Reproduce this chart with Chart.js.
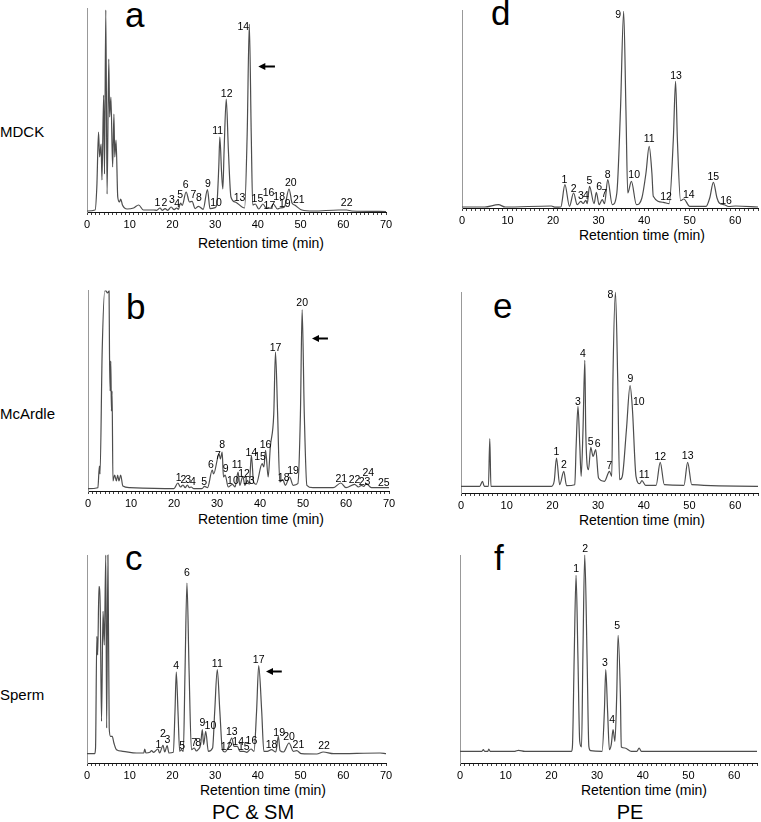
<!DOCTYPE html>
<html>
<head>
<meta charset="utf-8">
<script src="https://cdn.jsdelivr.net/npm/chart.js@4.4.1/dist/chart.umd.min.js"></script>
<style>
  body { margin: 0; background: #fff; }
  #page {
    position: relative;
    width: 761px;
    height: 822px;
    overflow: hidden;
    font-family: "Liberation Sans", Arial, sans-serif;
    color: #000;
  }
  #page canvas { position: absolute; }
  .t { position: absolute; line-height: 1; white-space: nowrap; }
  .row { left: 0; font-size: 15px; transform: translateY(-50%); }
  .axis-title { font-size: 14px; transform: translate(-50%, -50%); }
  .group { font-size: 20px; transform: translate(-50%, -50%); }
  .letter { font-size: 35px; }
</style>
</head>
<body>
<div id="page">
  <div class="t row" style="top:131px">MDCK</div>
  <div class="t row" style="top:413px">McArdle</div>
  <div class="t row" style="top:694px">Sperm</div>

  <div class="t letter" style="left:125px; top:-3px">a</div>
  <div class="t letter" style="left:126px; top:289px">b</div>
  <div class="t letter" style="left:125px; top:540px">c</div>
  <div class="t letter" style="left:491px; top:-5px">d</div>
  <div class="t letter" style="left:493px; top:288px">e</div>
  <div class="t letter" style="left:494px; top:540px">f</div>

  <div class="t axis-title" style="left:261px; top:243px">Retention time (min)</div>
  <div class="t axis-title" style="left:261px; top:519px">Retention time (min)</div>
  <div class="t axis-title" style="left:263px; top:790px">Retention time (min)</div>
  <div class="t axis-title" style="left:642px; top:235px">Retention time (min)</div>
  <div class="t axis-title" style="left:642px; top:520px">Retention time (min)</div>
  <div class="t axis-title" style="left:644px; top:790px">Retention time (min)</div>

  <div class="t group" style="left:253px; top:812px">PC &amp; SM</div>
  <div class="t group" style="left:630px; top:812px">PE</div>
</div>

<script>
// ---- a: PC & SM, MDCK ----
const aTime = [0, 1.9, 2.3, 2.7, 2.95, 3.3, 3.5, 3.9, 4.1, 4.4,
  4.7, 5.1, 5.3, 5.6, 6.0, 6.3, 6.5, 6.8, 7.2, 7.6,
  7.9, 8.3, 9.4, 10.9, 12.1, 13.2, 15.6, 16.3, 17.1, 17.6,
  18.3, 18.9, 19.7, 20.4, 21.0, 21.4, 21.9, 22.3, 23.2, 24.0,
  24.6, 25.3, 26.1, 27.2, 28.2, 28.8, 30.0, 30.4, 30.85, 31.1,
  31.5, 31.8, 32.1, 32.6, 33.1, 33.7, 34.7, 36.9, 37.5, 38.0,
  38.45, 38.8, 39.4, 40.2, 41.2, 42.0, 42.5, 42.9, 43.6, 44.6,
  45.2, 46.2, 47.3, 48.0, 48.6, 50.3, 53, 58.9, 60.8, 62, 70];
const aSignal = [1, 2, 25, 80, 55, 68, 32, 117, 38, 202,
  18, 153, 95, 115, 45, 98, 55, 72, 15, 10,
  13, 7, 3, 4, 7, 2, 2, 1.7, 4, 1.7,
  3.4, 1.7, 5, 2.4, 4, 2.6, 9, 6.7, 20, 10,
  10.7, 3.4, 5.7, 2.7, 22.4, 3.4, 4.4, 8, 45, 75,
  40, 23, 62, 113, 62, 15, 10, 4, 78, 188,
  78, 7, 8, 3, 8, 3.5, 4.3, 3.5, 8, 3,
  4, 5, 23, 9, 7, 2, 1, 2, 2, 1, 0.5];
const aPeakNo = ["1", "2", "3", "4", "5", "6", "7", "8", "9", "10", "11",
  "12", "13", "14", "15", "16", "17", "18", "19", "20", "21", "22"];
const aPeakTime = [16.5, 18.1, 19.9, 21.1, 21.8, 23.1, 24.9, 26.2, 28.3, 30.2, 30.6,
  32.7, 35.7, 36.6, 39.9, 42.5, 42.7, 45.0, 46.3, 47.7, 49.6, 60.8];
const aPeakSignal = [9.3, 9.3, 11.7, 8.3, 16.7, 26.7, 16.7, 14, 28.3, 9.3, 80.7,
  118.3, 14, 185, 12.7, 19, 6, 15, 7.7, 29, 11.7, 9];
const aArrow = [40.1, 44.0, 146];

// ---- b: PC & SM, McArdle ----
const bTime = [0, 2.3, 2.65, 2.8, 3.3, 3.9, 4.2, 4.5, 4.9, 5.0,
  5.15, 5.3, 5.45, 5.6, 5.8, 6.2, 6.6, 6.9, 7.2, 7.6,
  8.1, 9.7, 20.0, 20.9, 21.5, 22.1, 22.6, 23.1, 23.6, 24.0,
  24.6, 26.5, 27.1, 27.8, 28.9, 29.2, 30.5, 30.8, 31.2, 31.5,
  31.9, 32.6, 33.6, 34.2, 34.9, 35.3, 36.0, 36.5, 37.1, 37.5,
  38.0, 38.5, 39.1, 40.5, 40.9, 41.3, 41.9, 42.4, 43.2, 43.6,
  44.1, 44.6, 45.3, 45.9, 46.9, 47.7, 48.8, 49.4, 49.8, 50.3,
  50.9, 52.3, 57, 58.8, 60, 62, 62.9, 63.6, 64.1, 64.7, 65.9, 70];
const bSignal = [2.3, 3.3, 25, 17, 140, 200, 200, 198, 200, 137,
  100, 130, 80, 100, 10, 16, 10, 16, 10, 16,
  5, 3.3, 2.3, 8, 4, 6, 3.3, 6, 3.3, 4,
  2.3, 2.3, 4.7, 3.3, 21, 17, 37, 32, 39, 14,
  16, 4, 6.7, 4, 19, 5.7, 14.7, 5.7, 10.7, 6.7,
  35.7, 9, 6.7, 27.3, 24, 40.7, 14, 44, 77, 139,
  77, 9, 11.3, 5.7, 14, 5.7, 7.3, 77, 181.3, 77,
  5.7, 3.3, 3.3, 8, 3.3, 6.7, 4, 5.7, 4.5, 7.3, 3.3, 3.3];
const bPeakNo = ["1", "2", "3", "4", "5", "6", "7", "8", "9", "10", "11", "12", "13",
  "14", "15", "16", "17", "18", "19", "20", "21", "22", "23", "24", "25"];
const bPeakTime = [21.1, 22.2, 23.3, 24.4, 27.0, 28.6, 30.2, 31.2, 32.0, 33.7, 34.7, 36.3, 37.4,
  38.0, 40.0, 41.3, 43.6, 45.5, 47.7, 49.8, 58.9, 62.0, 64.3, 65.2, 68.8];
const bPeakSignal = [13.3, 10.7, 10.7, 9, 9, 26.3, 34.7, 46.3, 22.3, 9.7, 26.3, 17.3, 10,
  38.3, 34, 46.3, 143.3, 13, 19.7, 188.3, 12.3, 10.7, 8.7, 18, 8.3];
const bArrow = [52.1, 55.8, 153];

// ---- c: PC & SM, Sperm ----
const cTime = [0, 1.8, 2.0, 2.3, 2.5, 2.8, 3.1, 3.4, 3.75, 4.05,
  4.4, 4.6, 4.9, 5.2, 5.5, 5.9, 6.3, 6.9, 8.4, 11.6,
  13.3, 13.5, 13.8, 14.7, 15.1, 15.6, 16.6, 17.0, 17.8, 18.2,
  18.75, 19.2, 20.2, 20.6, 20.9, 21.3, 21.7, 22.1, 22.55, 22.95,
  23.4, 23.9, 24.45, 25.1, 25.6, 26.0, 26.6, 27.0, 27.3, 27.8,
  28.4, 29.4, 29.9, 30.5, 31.1, 31.7, 32.3, 33.0, 33.9, 34.4,
  35.2, 35.8, 36.7, 37.4, 38.4, 39.1, 39.7, 40.2, 40.9, 41.4,
  42.2, 43.2, 44.2, 44.8, 45.2, 46.0, 47.3, 48.3, 49.1, 50.2,
  53.8, 55.3, 57.7, 68.6, 70];
const cSignal = [9.3, 9.3, 15, 126.7, 108, 176.7, 155, 41.7, 151.7, 118,
  208, 35, 208, 35, 26.7, 26.7, 20, 13.3, 11.7, 10,
  10, 14, 10, 10.7, 12.3, 10.7, 14, 10, 17.7, 11,
  17.3, 10, 10.7, 51.7, 91, 51.7, 11.7, 13.3, 11.5, 92,
  180, 92, 13.3, 15, 12, 13.3, 18.3, 33.3, 18.3, 31.7,
  11.7, 15, 51.7, 93.3, 51.7, 13.3, 11, 15, 25, 16.7,
  16.7, 11.7, 11.7, 10.7, 14, 11.7, 51.7, 97.3, 51.7, 11.7,
  11.7, 13.3, 11, 26.7, 12.3, 11, 20, 11.7, 12.3, 9.3,
  9, 11, 9.3, 10, 9.3];
const cPeakNo = ["1", "2", "3", "4", "5", "6", "7", "8", "9", "10", "11",
  "12", "13", "14", "15", "16", "17", "18", "19", "20", "21", "22"];
const cPeakTime = [16.7, 17.8, 18.8, 20.9, 22.3, 23.4, 25.1, 26.0, 27.0, 28.9, 30.5,
  32.7, 33.9, 35.4, 36.7, 38.5, 40.2, 43.2, 45.0, 47.3, 49.5, 55.5];
const cPeakSignal = [18.3, 29, 23.3, 97.3, 16.7, 190, 20, 20, 40, 36.7, 99,
  15.7, 30.7, 20.7, 16, 22.3, 103.3, 17.7, 30, 25.7, 17.7, 16.7];
const cArrow = [41.9, 45.6, 92];

// ---- d: PE, MDCK ----
const dTime = [0, 5, 8, 9.5, 19.6, 20.5, 21.7, 22.6, 23.6, 24.5,
  25.3, 26.1, 26.6, 27.2, 27.5, 28.0, 29.0, 29.5, 30.1, 30.8,
  31.3, 32.0, 33.0, 34.0, 34.8, 35.5, 36.0, 36.4, 37.2, 38.3,
  39.5, 40.4, 41.1, 41.7, 42.0, 44.2, 45.5, 46.4, 46.9, 47.3,
  48.0, 48.7, 50.0, 53.6, 54.4, 55.2, 56.0, 56.5, 57.6, 58.5, 60.1, 65];
const dSignal = [1, 1, 3.3, 1, 2, 0.8, 1, 23.3, 1.7, 15,
  3.3, 6.7, 4.5, 7.7, 4.3, 21.7, 4.3, 15.7, 3.3, 8.3,
  4.3, 28.3, 3.3, 15, 98, 196.7, 98, 15, 26.7, 3.3,
  10, 35, 61.7, 35, 11.7, 5.7, 4.3, 68, 126.7, 68,
  7.3, 9, 1.7, 1.7, 10, 25.7, 10, 5, 3.3, 1.5, 2, 1];
const dPeakNo = ["1", "2", "3", "4", "5", "6", "7", "8",
  "9", "10", "11", "12", "13", "14", "15", "16"];
const dPeakTime = [22.5, 24.5, 26.1, 27.2, 28.0, 30.1, 31.2, 32.0,
  34.3, 37.8, 41.1, 44.8, 47.0, 49.8, 55.2, 58.0];
const dPeakSignal = [28.3, 19.3, 11.7, 11.7, 27.3, 20.7, 14, 33.3,
  192.7, 32.7, 69, 11, 131.7, 12.7, 30.7, 7.3];

// ---- e: PE, McArdle ----
const eTime = [0, 4.1, 4.7, 5.1, 6.0, 6.3, 6.55, 19.8, 20.4, 20.9,
  21.6, 22.5, 23.1, 24.9, 25.2, 25.6, 26.0, 26.3, 26.7, 27.1,
  27.3, 27.9, 28.4, 28.9, 29.5, 30.1, 31.4, 32.5, 33.0, 33.25,
  33.8, 34.3, 34.7, 35.3, 36.2, 37.0, 37.5, 38.3, 39.1, 39.6,
  40.4, 42.7, 43.6, 44.5, 48.8, 49.6, 50.5, 65];
const eSignal = [6.7, 6.7, 11.7, 6.7, 6.7, 54.3, 6.7, 6.7, 12, 35,
  8.3, 21.7, 7.3, 8.3, 47, 86.7, 47, 16.7, 63, 132.7,
  63, 23.3, 45.7, 36.7, 43.3, 15, 11.7, 21.7, 16.7, 113,
  200.7, 113, 13.3, 16.7, 63, 107.3, 85, 16.7, 9.3, 12.3,
  7.7, 7.7, 30.7, 8.3, 7.7, 30.7, 8.3, 6.7];
const ePeakNo = ["1", "2", "3", "4", "5", "6", "7", "8", "9", "10", "11", "12", "13"];
const ePeakTime = [20.9, 22.5, 25.6, 26.7, 28.4, 29.9, 32.5, 32.7, 37.1, 38.9, 40.1, 43.6, 49.6];
const ePeakSignal = [40.7, 27.7, 91, 138.7, 51.3, 48.7, 26.7, 197.7, 114, 90.7, 18.3, 35.7, 37];

// ---- f: PE, Sperm ----
const fTime = [0, 4.8, 5.1, 5.4, 6.1, 6.3, 6.6, 12.0, 12.8, 14.2,
  24.4, 24.6, 25.0, 25.4, 25.8, 26.2, 26.6, 26.9, 27.3, 27.8,
  28.2, 28.6, 31.1, 31.6, 31.9, 32.3, 32.7, 33.1, 33.5, 33.9,
  34.3, 34.6, 35.1, 35.3, 36.1, 37.5, 38.7, 39.2, 39.7, 65];
const fSignal = [11.7, 11.7, 13.3, 11.7, 11.7, 14, 11.7, 11.7, 12.7, 11.7,
  11.7, 16, 108, 187.7, 108, 21.7, 16, 108, 208, 108,
  16.7, 12.3, 11.7, 52, 93.3, 52, 13.3, 18.3, 33.3, 21.7,
  68, 127.7, 68, 16, 15, 11.7, 11.7, 15, 11.7, 11.7];
const fPeakNo = ["1", "2", "3", "4", "5"];
const fPeakTime = [25.4, 27.4, 31.7, 33.3, 34.4];
const fPeakSignal = [194, 214, 100, 43, 137];

const FONT = "'Liberation Sans', Arial, sans-serif";

// plot box of every panel, in page pixels
const panels = [
  { time: aTime, signal: aSignal, no: aPeakNo, pt: aPeakTime, ps: aPeakSignal, arrow: aArrow,
    left: 87, right: 386, top: 8, axis: 212, xMax: 70, yMax: 204, padTop: 8 },
  { time: bTime, signal: bSignal, no: bPeakNo, pt: bPeakTime, ps: bPeakSignal, arrow: bArrow,
    left: 88, right: 389, top: 290, axis: 491, xMax: 70, yMax: 201, padTop: 12 },
  { time: cTime, signal: cSignal, no: cPeakNo, pt: cPeakTime, ps: cPeakSignal, arrow: cArrow,
    left: 87, right: 386, top: 555, axis: 763, xMax: 70, yMax: 208, padTop: 15 },
  { time: dTime, signal: dSignal, no: dPeakNo, pt: dPeakTime, ps: dPeakSignal, arrow: null,
    left: 462, right: 761, top: 10, axis: 208, xMax: 65, yMax: 198, padTop: 10 },
  { time: eTime, signal: eSignal, no: ePeakNo, pt: ePeakTime, ps: ePeakSignal, arrow: null,
    left: 461, right: 759, top: 292, axis: 493, xMax: 65, yMax: 201, padTop: 12 },
  { time: fTime, signal: fSignal, no: fPeakNo, pt: fPeakTime, ps: fPeakSignal, arrow: null,
    left: 460, right: 757, top: 555, axis: 763, xMax: 65, yMax: 208, padTop: 15 },
];

function labelPlugin(p) {
  return {
    id: "peakLabels",
    afterDatasetsDraw(chart) {
      const { ctx, scales: { x, y } } = chart;
      ctx.save();
      ctx.font = "10.5px " + FONT;
      ctx.fillStyle = "#000";
      ctx.textAlign = "center";
      ctx.textBaseline = "middle";
      p.no.forEach((n, i) => {
        ctx.fillText(n, x.getPixelForValue(p.pt[i]), y.getPixelForValue(p.ps[i]));
      });
      if (p.arrow) {
        const x1 = x.getPixelForValue(p.arrow[0]);
        const x2 = x.getPixelForValue(p.arrow[1]);
        const yy = Math.round(y.getPixelForValue(p.arrow[2])) + 0.5;
        ctx.strokeStyle = "#000";
        ctx.lineWidth = 2;
        ctx.beginPath();
        ctx.moveTo(x1 + 5, yy);
        ctx.lineTo(x2, yy);
        ctx.stroke();
        ctx.beginPath();
        ctx.moveTo(x1, yy);
        ctx.lineTo(x1 + 7, yy - 3.5);
        ctx.lineTo(x1 + 7, yy + 3.5);
        ctx.closePath();
        ctx.fill();
      }
      ctx.restore();
    },
  };
}

const AXIS_H = 24;
const page = document.getElementById("page");

panels.forEach((p) => {
  const padL = 14;
  const padR = Math.min(14, 761 - p.right);
  const canvas = document.createElement("canvas");
  const w = p.right - p.left + padL + padR;
  const h = p.padTop + (p.axis - p.top) + AXIS_H;
  canvas.width = w;
  canvas.height = h;
  canvas.style.left = p.left - padL + "px";
  canvas.style.top = p.top - p.padTop + "px";
  canvas.style.width = w + "px";
  canvas.style.height = h + "px";
  page.appendChild(canvas);

  new Chart(canvas, {
    type: "line",
    data: {
      datasets: [
        {
          data: p.time.map((t, i) => ({ x: t, y: p.signal[i] })),
          borderColor: "#4d4d4d",
          borderWidth: 1.2,
          pointRadius: 0,
          cubicInterpolationMode: "monotone",
          fill: false,
          clip: false,
        },
      ],
    },
    options: {
      responsive: false,
      animation: false,
      events: [],
      layout: { padding: { left: padL, right: padR, top: p.padTop, bottom: 0 } },
      plugins: { legend: { display: false }, tooltip: { enabled: false } },
      scales: {
        x: {
          type: "linear",
          min: 0,
          max: p.xMax,
          afterFit: (ax) => { ax.height = AXIS_H; },
          ticks: {
            stepSize: 1,
            autoSkip: false,
            maxRotation: 0,
            padding: 3,
            color: "#000",
            font: { size: 11, family: FONT },
            callback: (v) => (v % 10 === 0 ? v : ""),
          },
          grid: { display: true, drawOnChartArea: false, drawTicks: true, tickLength: 3, tickColor: "#444" },
          border: { display: true, color: "#111", width: 1 },
        },
        y: {
          min: 0,
          max: p.yMax,
          afterFit: (ax) => { ax.width = 0; },
          ticks: { display: false },
          grid: { display: false },
          border: { display: true, color: "#999", width: 1 },
        },
      },
    },
    plugins: [labelPlugin(p)],
  });
});
</script>
</body>
</html>
